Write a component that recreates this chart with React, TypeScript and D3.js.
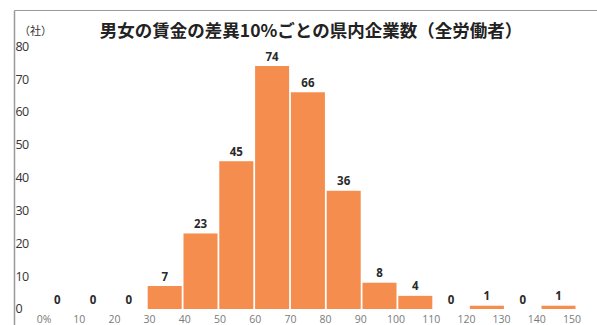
import React from "react";
import * as d3 from "d3";

const categories = ["0-10","10-20","20-30","30-40","40-50","50-60","60-70","70-80","80-90","90-100","100-110","110-120","120-130","130-140","140-150"];
const values = [0, 0, 0, 7, 23, 45, 74, 66, 36, 8, 4, 0, 1, 0, 1];
const xTickValues = [0,10,20,30,40,50,60,70,80,90,100,110,120,130,140,150];
const xTickLabels = ["0%","10","20","30","40","50","60","70","80","90","100","110","120","130","140","150"];
const yTicks = [0,10,20,30,40,50,60,70,80];
const title = "男女の賃金の差異10%ごとの県内企業数（全労働者）";
const unitLabel = "（社）";

const W = 597, H = 325;
const x0 = 40.3, x1 = 575.5;
const yTop = 46.3, yBase = 309;

export default function App() {
  const xBand = d3.scaleBand<string>().domain(categories).range([x0, x1]).paddingInner(0.05).paddingOuter(0);
  const xLin = d3.scaleLinear().domain([0, 150]).range([44, 572]);
  const y = d3.scaleLinear().domain([0, 80]).range([yBase, yTop]);
  const jp = "'Noto Sans CJK JP', 'Noto Sans', sans-serif";
  const lat = "'Open Sans', 'Noto Sans', sans-serif";
  return (
    <svg width={W} height={H} style={{ position: "absolute", left: 0, top: 0, background: "#fff" }}>
      <rect x={0} y={0} width={W} height={H} fill="#fff" />
      <line x1={14.5} x2={W} y1={10.5} y2={10.5} stroke="#9a9a9a" strokeWidth={1.2} />
      <line x1={14.5} x2={14.5} y1={10.5} y2={H} stroke="#9a9a9a" strokeWidth={1.5} />
      <text x={311} y={37} textAnchor="middle" fontFamily={jp} fontWeight={700} fontSize={17.5} fill="#222">{title}</text>
      <text x={19} y={35} fontFamily={jp} fontSize={11} fill="#333">{unitLabel}</text>
      {yTicks.map((t) => (
        <text key={t} x={15.5} y={y(t)} dy="0.35em" fontFamily={lat} fontSize={12.5} fill="#333" letterSpacing={-0.6}>{t}</text>
      ))}
      {categories.map((c, i) => {
        const v = values[i];
        const bx = xBand(c)!;
        const bw = xBand.bandwidth();
        return (
          <g key={c}>
            {v > 0 && (
              <rect x={bx} y={y(v)} width={bw} height={yBase - y(v)} fill="#F58D4E" />
            )}
            <text x={bx + bw / 2} y={y(v) - 5.5} textAnchor="middle" fontFamily={lat} fontWeight={700} fontSize={11.5} fill="#2a2a2a">{v}</text>
          </g>
        );
      })}
      {xTickValues.map((t, i) => (
        <text key={t} x={xLin(t)} y={319.5} dy="0.35em" textAnchor="middle" fontFamily={lat} fontSize={10.5} fill="#7a7a7a">{xTickLabels[i]}</text>
      ))}
    </svg>
  );
}
